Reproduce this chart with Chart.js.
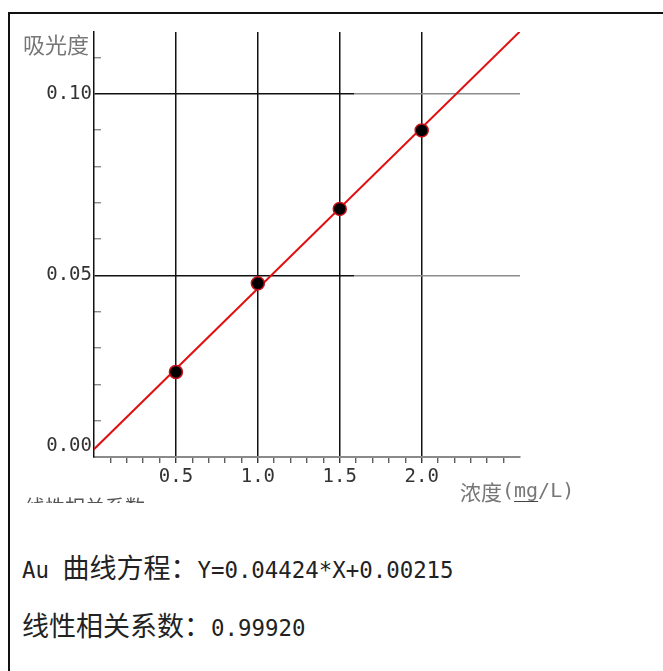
<!DOCTYPE html>
<html lang="zh-CN">
<head>
<meta charset="utf-8">
<title>Au 标准曲线</title>
<script src="https://cdn.jsdelivr.net/npm/chart.js@4.4.1/dist/chart.umd.min.js"></script>
<style>
  html, body { margin: 0; padding: 0; background: #fff; overflow: hidden; }
  body { width: 663px; height: 671px; position: relative; }
  .frame {
    position: absolute; left: 8px; top: 12px; width: 700px; height: 700px;
    border-left: 2px solid #111; border-top: 2px solid #111;
  }
  .chart-box { position: absolute; left: 0; top: 0; width: 663px; height: 520px; }
  .cut-label {
    position: absolute; left: 25px; top: 497px; height: 6px; overflow: hidden;
    font-family: "Noto Sans CJK SC"; font-size: 20px; line-height: 20px; color: #555;
    white-space: nowrap;
  }
  .note { position: absolute; left: 22px; white-space: nowrap; color: #222; line-height: 30px; }
  .note .zh { font-family: "Noto Sans CJK SC"; font-size: 27px; }
  .note .en { font-family: "DejaVu Sans Mono"; font-size: 22.4px; }
</style>
</head>
<body>
<div class="frame"></div>
<div class="chart-box"><canvas id="curve"></canvas></div>
<div class="cut-label">线性相关系数</div>
<div class="note" style="top:552px"><span class="en">Au </span><span class="zh">曲线方程：</span><span class="en">Y=0.04424*X+0.00215</span></div>
<div class="note" style="top:610px"><span class="zh">线性相关系数：</span><span class="en">0.99920</span></div>

<script>
// 标准点：浓度 (mg/L) 与吸光度
const concentrations = [0.5, 1.0, 1.5, 2.0];
const absorbances = [0.0234, 0.0478, 0.0683, 0.0899];

// 拟合直线 Y = a*X + b
const slope = 0.04424;
const intercept = 0.00215;
const fitRange = [0, 2.6];

// 坐标轴范围与带数字的刻度
const xRange = [0, 2.6];
const yRange = [0, 0.117];
const xLabelValues = [0.5, 1.0, 1.5, 2.0];
const yLabelValues = [0, 0.05, 0.10];

const clear = 'rgba(0,0,0,0)';
const near = (list, v) => list.some(t => Math.abs(t - v) < 1e-6);

const points = concentrations.map((x, i) => ({ x: x, y: absorbances[i] }));
const fitLine = fitRange.map(x => ({ x: x, y: slope * x + intercept }));

// 轴标题：吸光度 / 浓度(mg/L)
const axisCaptions = {
  id: 'axisCaptions',
  afterDraw(chart) {
    const { ctx, chartArea } = chart;
    ctx.save();
    ctx.fillStyle = '#777';
    ctx.textBaseline = 'middle';
    ctx.textAlign = 'left';
    ctx.font = '22px "Noto Sans CJK SC"';
    ctx.fillText('吸光度', chartArea.left - 71, chartArea.top + 13);

    let x = chartArea.right - 60;
    const y = chartArea.bottom + 35;
    ctx.font = '21px "Noto Sans CJK SC"';
    ctx.fillText('浓度', x, y);
    x += ctx.measureText('浓度').width;
    ctx.font = '20px "DejaVu Sans Mono"';
    ctx.fillText('(mg/L)', x, y);
    const cw = ctx.measureText('(').width;
    ctx.strokeStyle = '#444';
    ctx.lineWidth = 1;
    ctx.beginPath();
    ctx.moveTo(x + cw, y + 9.5);
    ctx.lineTo(x + cw * 3, y + 9.5);
    ctx.stroke();
    ctx.restore();
  }
};

Chart.defaults.font.family = '"DejaVu Sans Mono"';
Chart.defaults.font.size = 19;
Chart.defaults.color = '#333';

new Chart(document.getElementById('curve'), {
  type: 'scatter',
  data: {
    datasets: [
      {
        label: '标准点',
        data: points,
        order: 0,
        pointRadius: 6.5,
        pointBackgroundColor: '#000',
        pointBorderColor: '#c8101a',
        pointBorderWidth: 1.5,
        showLine: false
      },
      {
        type: 'line',
        label: '拟合直线',
        data: fitLine,
        order: 1,
        borderColor: '#e01010',
        borderWidth: 2,
        pointRadius: 0,
        fill: false
      }
    ]
  },
  options: {
    responsive: true,
    maintainAspectRatio: false,
    animation: false,
    layout: { padding: { left: 0, top: 32, right: 143, bottom: 23 } },
    plugins: {
      legend: { display: false },
      tooltip: { enabled: false }
    },
    scales: {
      x: {
        type: 'linear',
        min: xRange[0],
        max: xRange[1],
        afterFit(scale) { scale.height = 40; },
        border: { color: '#8a8a8a', width: 2 },
        grid: {
          lineWidth: 1.5,
          tickLength: 6,
          tickWidth: 1.2,
          color: ctx => (ctx.tick && ctx.tick.value > 0 && near(xLabelValues, ctx.tick.value)) ? '#111' : clear,
          tickColor: ctx => {
            const v = ctx.tick ? ctx.tick.value : 0;
            if (v <= 0 || v > 2.55) return clear;
            return near(xLabelValues, v) ? '#111' : '#444';
          }
        },
        ticks: {
          stepSize: 0.1,
          maxTicksLimit: 40,
          autoSkip: false,
          maxRotation: 0,
          padding: 3,
          callback: v => near(xLabelValues, v) ? v.toFixed(1) : ''
        }
      },
      y: {
        type: 'linear',
        min: yRange[0],
        max: yRange[1],
        afterFit(scale) { scale.width = 94; },
        border: { color: '#111', width: 1.5 },
        grid: {
          lineWidth: 1.5,
          tickLength: -7,
          tickWidth: 1.2,
          color: ctx => {
            const v = ctx.tick ? ctx.tick.value : 0;
            if (v <= 0 || !near(yLabelValues, v)) return clear;
            const area = ctx.chart.chartArea;
            if (!area) return '#111';
            const g = ctx.chart.ctx.createLinearGradient(area.left, 0, area.right, 0);
            g.addColorStop(0, '#111');
            g.addColorStop(0.61, '#111');
            g.addColorStop(0.61, '#8c8c8c');
            g.addColorStop(1, '#8c8c8c');
            return g;
          },
          tickColor: ctx => {
            const v = ctx.tick ? ctx.tick.value : 0;
            return (v <= 0 || near(yLabelValues, v)) ? clear : '#777';
          }
        },
        ticks: {
          stepSize: 0.01,
          maxTicksLimit: 20,
          includeBounds: false,
          autoSkip: false,
          padding: 9,
          callback: v => {
            if (!near(yLabelValues, v)) return '';
            return v === 0 ? ['0.00', ''] : v.toFixed(2);
          }
        }
      }
    }
  },
  plugins: [axisCaptions]
});
</script>
</body>
</html>
